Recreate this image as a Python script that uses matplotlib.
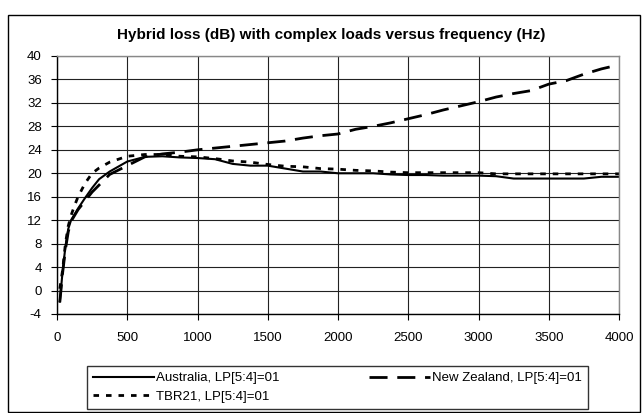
import matplotlib
matplotlib.use("Agg")
import matplotlib.pyplot as plt
from matplotlib.patches import Rectangle

plt.rcParams['font.family'] = ['Liberation Sans', 'DejaVu Sans']
plt.rcParams['axes.unicode_minus'] = False

freq = [20, 40, 60, 80, 100, 125, 150, 200, 250, 300, 375, 500, 625, 750, 875,
        1000, 1125, 1250, 1375, 1500, 1625, 1750, 1875, 2000, 2125, 2250, 2375,
        2500, 2625, 2750, 2875, 3000, 3125, 3250, 3375, 3500, 3625, 3750, 3875, 4000]

australia = [-1.9, 3.3, 7.5, 10.5, 12.0, 13.0, 14.0, 15.8, 17.5, 19.0, 20.3, 22.0, 22.8, 22.9, 22.7,
             22.6, 22.4, 21.6, 21.3, 21.3, 20.8, 20.3, 20.3, 20.0, 20.0, 20.0, 19.8,
             19.7, 19.7, 19.6, 19.6, 19.6, 19.5, 19.1, 19.1, 19.1, 19.1, 19.1, 19.4, 19.4]

new_zealand = [-2.0, 3.0, 7.0, 10.0, 11.8, 12.8, 13.8, 15.3, 16.8, 18.0, 19.8, 21.3, 22.8, 23.3, 23.6,
               24.0, 24.3, 24.6, 24.9, 25.2, 25.5, 26.0, 26.4, 26.7, 27.5, 28.0, 28.6,
               29.3, 30.0, 30.8, 31.5, 32.2, 33.0, 33.6, 34.1, 35.2, 35.8, 36.9, 37.8, 38.5]

tbr21 = [0.3, 3.5, 8.0, 11.0, 12.8, 14.5, 16.0, 18.3, 20.0, 20.9, 21.9, 22.9, 23.2, 23.2, 22.9,
         22.8, 22.5, 22.1, 21.9, 21.5, 21.2, 21.1, 20.8, 20.7, 20.5, 20.4, 20.2,
         20.1, 20.1, 20.1, 20.1, 20.1, 19.9, 19.9, 19.9, 19.9, 19.9, 19.9, 19.9, 19.9]

title = "Hybrid loss (dB) with complex loads versus frequency (Hz)"
labels = ["Australia, LP[5:4]=01", "New Zealand, LP[5:4]=01", "TBR21, LP[5:4]=01"]
xticks = list(range(0, 4001, 500))
yticks = list(range(-4, 41, 4))

W, H = 642, 413
fig = plt.figure(figsize=(W / 100, H / 100), dpi=100)
fig.patch.set_facecolor('white')

# outer chart border
fig.add_artist(Rectangle((8 / W, 1 - 412 / H), (640 - 8) / W, (412 - 15) / H,
                         transform=fig.transFigure, fill=False, edgecolor='black', lw=1.0))

ax = fig.add_axes([57 / W, 1 - 314 / H, (619 - 57) / W, (314 - 56) / H])
ax.set_xlim(0, 4000)
ax.set_ylim(-4, 40)
ax.set_xticks(xticks)
ax.set_yticks(yticks)
ax.grid(True, color='#222222', lw=0.8)
ax.set_axisbelow(True)
for s in ['top', 'right']:
    ax.spines[s].set_color('#888888')
    ax.spines[s].set_linewidth(1.0)
for s in ['left', 'bottom']:
    ax.spines[s].set_color('black')
    ax.spines[s].set_linewidth(1.0)
ax.tick_params(direction='out', length=4, width=0.8, labelsize=9.5)
ax.tick_params(axis='x', pad=9)
ax.tick_params(axis='y', pad=7)

l1, = ax.plot(freq, australia, color='black', lw=1.5, ls='-')
l2, = ax.plot(freq, new_zealand, color='black', lw=2.0, ls=(0, (6.5, 3.5)))
l3, = ax.plot(freq, tbr21, color='black', lw=2.0, ls=(0, (2, 2.5)))

fig.text(331 / W, 1 - 35 / H, title, ha='center', va='center',
         fontsize=11, fontweight='bold')

leg = fig.legend([l1, l3, l2], [labels[0], labels[2], labels[1]],
                 ncol=2, loc='lower left',
                 bbox_to_anchor=(87 / W, 1 - 409 / H, (588 - 87) / W, (409 - 360) / H),
                 mode='expand', frameon=True, fontsize=9.5, handlelength=4.6,
                 handletextpad=0.2, borderaxespad=0, fancybox=False,
                 labelspacing=0.5, borderpad=0.45, columnspacing=2)
leg.get_frame().set_edgecolor('black')
leg.get_frame().set_linewidth(1.0)

fig.savefig('out.png', dpi=100)
